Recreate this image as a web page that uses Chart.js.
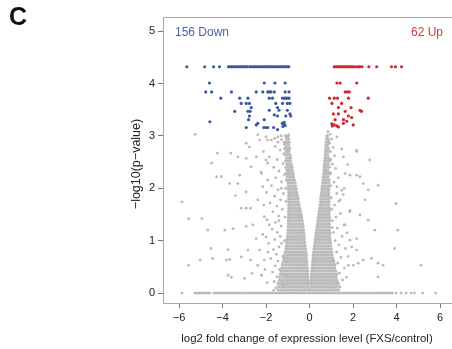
<!DOCTYPE html>
<html>
<head>
<meta charset="utf-8">
<script src="https://cdn.jsdelivr.net/npm/chart.js@4/dist/chart.umd.min.js"></script>
<style>
html,body{margin:0;padding:0;background:#fff;overflow:hidden;width:452px;height:349px;}
canvas{display:block;}
</style>
</head>
<body>
<canvas id="c" width="480" height="349" style="width:480px;height:349px"></canvas>
<script>
// ---- texts ----
const panelLabel = "C";
const downLabel = "156 Down";
const upLabel = "62 Up";
const xTitle = "log2 fold change of expression level (FXS/control)";
const yTitle = "\u2212log10(p\u2212value)";

// ---- ticks ----
const xTicks = [-6, -4, -2, 0, 2, 4, 6];
const yTicks = [0, 1, 2, 3, 4, 5];

// ---- significant down (blue) ----
const downTopY = 4.32;
const downTopX = [-5.64,-4.82,-4.41,-4.14,-3.73,-3.66,-3.60,-3.53,-3.46,-3.40,-3.33,-3.26,-3.19,-3.12,-3.05,-2.98,-2.92,-2.86,-2.75,-2.69,-2.62,-2.55,-2.49,-2.42,-2.35,-2.28,-2.21,-2.15,-2.08,-2.01,-1.94,-1.88,-1.81,-1.74,-1.67,-1.60,-1.54,-1.47,-1.40,-1.33,-1.26,-1.20,-1.13,-1.06,-0.99,-0.95];
const downPoints = [[-4.60,4.01],[-2.08,4.01],[-1.59,4.01],[-1.12,4.01],
[-4.77,3.84],[-4.50,3.84],[-3.59,3.84],[-2.45,3.84],[-2.15,3.84],[-1.92,3.84],[-1.85,3.84],[-1.77,3.84],[-1.62,3.84],[-1.12,3.84],[-0.94,3.84],
[-4.08,3.72],[-3.21,3.72],[-2.83,3.72],[-1.85,3.72],[-1.70,3.72],[-1.24,3.72],[-1.16,3.72],[-1.09,3.72],[-1.02,3.72],[-0.94,3.72],
[-3.14,3.62],[-2.91,3.62],[-2.76,3.62],[-1.55,3.62],[-1.24,3.62],[-1.02,3.62],[-0.90,3.62],
[-2.68,3.54],[-1.47,3.54],
[-3.44,3.47],[-2.83,3.47],[-2.73,3.47],[-1.85,3.49],[-1.40,3.49],[-1.02,3.49],
[-2.76,3.38],[-0.90,3.42],[-1.09,3.38],[-0.86,3.38],[-1.62,3.40],[-1.47,3.38],
[-2.80,3.31],[-2.08,3.31],
[-4.58,3.27],[-2.91,3.16],[-2.45,3.21],[-2.38,3.24],[-2.10,3.16],[-2.00,3.16],[-1.92,3.16],
[-1.25,3.24],[-1.20,3.22],[-1.15,3.21],[-1.22,3.18],[-1.17,3.26],[-1.12,3.20],
[-1.65,3.16],[-1.47,3.12]];

// ---- significant up (red) ----
const upTopY = 4.32;
const upTopX = [1.14,1.20,1.26,1.32,1.38,1.44,1.50,1.56,1.62,1.68,1.74,1.80,1.86,1.93,2.00,2.07,2.18,2.25,2.32,2.41,2.73,3.09,3.77,3.95,4.23];
const upPoints = [[1.26,4.01],[1.41,4.01],[2.17,4.01],
[1.64,3.84],[1.74,3.84],[1.83,3.84],
[0.92,3.72],[1.14,3.72],[1.29,3.72],[1.79,3.72],[2.70,3.72],
[1.03,3.62],[1.48,3.62],
[1.33,3.54],[1.91,3.54],
[1.64,3.47],[2.39,3.47],[2.32,3.49],
[1.10,3.42],[1.33,3.42],[1.79,3.38],[1.94,3.35],
[1.18,3.31],[1.56,3.31],
[1.03,3.23],[1.14,3.21],[1.26,3.19],[1.33,3.17],[1.56,3.24],[1.71,3.28],[2.01,3.21],[1.05,3.19]];

// ---- non-significant (gray): dense V rows [y, [x...]] ----
const grayRows = [
[0.06,[-1.45,-1.33,-1.21,-1.09,-0.97,-0.85,-0.73,-0.61,-0.49,-0.37,-0.25,-0.13,-0.03,0.03,0.13,0.25,0.37,0.49,0.61,0.73,0.85,0.97,1.09,1.21,1.33]],
[0.12,[-1.41,-1.27,-1.15,-1.03,-0.91,-0.79,-0.67,-0.55,-0.43,-0.31,-0.19,-0.08,0.07,0.19,0.31,0.43,0.55,0.67,0.79,0.91,1.03,1.15,1.27]],
[0.18,[-1.44,-1.33,-1.21,-1.09,-0.97,-0.85,-0.73,-0.61,-0.49,-0.37,-0.25,-0.13,-0.05,0.05,0.13,0.25,0.37,0.49,0.61,0.73,0.85,0.97,1.09,1.21,1.31]],
[0.24,[-1.38,-1.27,-1.15,-1.03,-0.91,-0.79,-0.67,-0.55,-0.43,-0.31,-0.19,-0.07,0.07,0.19,0.31,0.43,0.55,0.67,0.79,0.91,1.03,1.15,1.26]],
[0.30,[-1.36,-1.21,-1.09,-0.97,-0.85,-0.73,-0.61,-0.49,-0.37,-0.25,-0.13,-0.08,0.08,0.13,0.25,0.37,0.49,0.61,0.73,0.85,0.97,1.09,1.22]],
[0.36,[-1.33,-1.27,-1.15,-1.03,-0.91,-0.79,-0.67,-0.55,-0.43,-0.31,-0.19,-0.09,0.10,0.19,0.31,0.43,0.55,0.67,0.79,0.91,1.03,1.15,1.24]],
[0.42,[-1.30,-1.21,-1.09,-0.97,-0.85,-0.73,-0.61,-0.49,-0.37,-0.25,-0.13,-0.10,0.11,0.13,0.25,0.37,0.49,0.61,0.73,0.85,0.97,1.09,1.20]],
[0.48,[-1.27,-1.15,-1.03,-0.91,-0.79,-0.67,-0.55,-0.43,-0.31,-0.19,-0.11,0.13,0.19,0.31,0.43,0.55,0.67,0.79,0.91,1.03,1.15]],
[0.54,[-1.24,-1.09,-0.97,-0.85,-0.73,-0.61,-0.49,-0.37,-0.25,-0.13,0.14,0.25,0.37,0.49,0.61,0.73,0.85,0.97,1.09,1.16]],
[0.60,[-1.20,-1.15,-1.03,-0.91,-0.79,-0.67,-0.55,-0.43,-0.31,-0.19,-0.13,0.15,0.19,0.31,0.43,0.55,0.67,0.79,0.91,1.03,1.11]],
[0.66,[-1.17,-1.09,-0.97,-0.85,-0.73,-0.61,-0.49,-0.37,-0.25,-0.15,0.17,0.25,0.37,0.49,0.61,0.73,0.85,0.97,1.07]],
[0.72,[-1.13,-1.03,-0.91,-0.79,-0.67,-0.55,-0.43,-0.31,-0.19,-0.15,0.18,0.19,0.31,0.43,0.55,0.67,0.79,0.91,1.03]],
[0.78,[-1.11,-0.97,-0.85,-0.73,-0.61,-0.49,-0.37,-0.25,-0.17,0.19,0.25,0.37,0.49,0.61,0.73,0.85,0.97,1.01]],
[0.84,[-1.08,-1.03,-0.91,-0.79,-0.67,-0.55,-0.43,-0.31,-0.19,0.21,0.31,0.43,0.55,0.67,0.79,0.91,0.99]],
[0.90,[-1.06,-0.97,-0.85,-0.73,-0.61,-0.49,-0.37,-0.25,-0.20,0.23,0.25,0.37,0.49,0.61,0.73,0.85,0.97]],
[0.96,[-1.04,-0.91,-0.79,-0.67,-0.55,-0.43,-0.31,-0.22,0.25,0.31,0.43,0.55,0.67,0.79,0.91,0.96]],
[1.02,[-1.02,-0.97,-0.85,-0.73,-0.61,-0.49,-0.37,-0.25,0.27,0.37,0.49,0.61,0.73,0.85,0.95]],
[1.08,[-1.00,-0.91,-0.79,-0.67,-0.55,-0.43,-0.31,-0.25,0.29,0.31,0.43,0.55,0.67,0.79,0.91]],
[1.14,[-0.99,-0.85,-0.73,-0.61,-0.49,-0.37,-0.27,0.31,0.37,0.49,0.61,0.73,0.85,0.93]],
[1.20,[-0.98,-0.91,-0.79,-0.67,-0.55,-0.43,-0.31,-0.28,0.33,0.43,0.55,0.67,0.79,0.91]],
[1.26,[-0.98,-0.85,-0.73,-0.61,-0.49,-0.37,-0.30,0.35,0.37,0.49,0.61,0.73,0.85,0.92]],
[1.32,[-0.97,-0.91,-0.79,-0.67,-0.55,-0.43,-0.32,0.37,0.43,0.55,0.67,0.79,0.91]],
[1.38,[-0.97,-0.85,-0.73,-0.61,-0.49,-0.37,-0.34,0.39,0.49,0.61,0.73,0.85,0.91]],
[1.44,[-0.96,-0.91,-0.79,-0.67,-0.55,-0.43,-0.36,0.41,0.43,0.55,0.67,0.79,0.91]],
[1.50,[-0.96,-0.85,-0.73,-0.61,-0.49,-0.39,0.43,0.49,0.61,0.73,0.85,0.90]],
[1.56,[-0.96,-0.91,-0.79,-0.67,-0.55,-0.42,0.45,0.55,0.67,0.79,0.90]],
[1.62,[-0.95,-0.85,-0.73,-0.61,-0.49,-0.45,0.47,0.49,0.61,0.73,0.85,0.90]],
[1.68,[-0.95,-0.91,-0.79,-0.67,-0.55,-0.48,0.49,0.55,0.67,0.79,0.89]],
[1.74,[-0.95,-0.85,-0.73,-0.61,-0.51,0.51,0.61,0.73,0.85,0.89]],
[1.80,[-0.95,-0.91,-0.79,-0.67,-0.55,-0.53,0.52,0.55,0.67,0.79,0.89]],
[1.86,[-0.95,-0.85,-0.73,-0.61,-0.56,0.54,0.61,0.73,0.85,0.88]],
[1.92,[-0.95,-0.91,-0.79,-0.67,-0.59,0.56,0.67,0.79,0.88]],
[1.98,[-0.96,-0.85,-0.73,-0.62,0.58,0.61,0.73,0.85,0.88]],
[2.04,[-0.97,-0.91,-0.79,-0.67,-0.64,0.59,0.67,0.79,0.88]],
[2.10,[-0.98,-0.85,-0.73,-0.67,0.61,0.73,0.85,0.88]],
[2.16,[-1.05,-0.97,-0.88,-0.79,-0.70,0.63,0.72,0.81,0.90]],
[2.22,[-1.02,-0.93,-0.84,-0.74,0.64,0.74,0.85]],
[2.28,[-1.06,-0.97,-0.88,-0.76,0.66,0.76,0.88,0.95]],
[2.34,[-1.00,-0.91,-0.79,0.67,0.72,0.83]],
[2.40,[-1.08,-0.96,-0.86,-0.81,0.68,0.78,0.90]],
[2.46,[-1.03,-0.92,-0.84,0.69,0.75,0.86]],
[2.52,[-1.10,-0.99,-0.88,0.70,0.80,0.92]],
[2.58,[-1.05,-0.94,-0.87,0.71,0.77,0.88]],
[2.64,[-1.12,-1.00,-0.90,0.73,0.83]],
[2.70,[-1.06,-0.95,0.74,0.80,0.93]],
[2.76,[-1.14,-1.01,-0.92,0.75,0.86]],
[2.82,[-1.08,-0.96,0.76,0.82]],
[2.88,[-1.15,-1.02,-0.94,0.77,0.88]],
[2.94,[-1.05,-0.97,0.79,0.84]],
[3.00,[-1.10,-0.98,0.81]]
];

// ---- gray scattered points [x, y] ----
const grayScatter = [
[-1.55,0.10],[-1.62,0.22],[-1.50,0.31],[-1.70,0.40],[-1.58,0.52],[-1.45,0.61],[-1.78,0.66],[-1.52,0.74],[-1.66,0.83],[-1.40,0.88],[-1.88,0.95],[-1.60,1.02],[-1.35,1.08],[-1.48,1.16],[-1.72,1.22],[-1.30,1.28],[-1.56,1.35],[-1.95,1.40],[-1.42,1.47],[-1.68,1.55],[-1.25,1.60],[-1.50,1.66],[-1.82,1.72],[-1.33,1.78],[-1.60,1.85],[-1.20,1.90],[-1.45,1.97],[-1.75,2.05],[-1.28,2.12],[-1.55,2.20],[-1.15,2.26],[-1.40,2.33],[-1.65,2.40],[-1.22,2.47],[-1.48,2.55],[-1.85,2.60],[-1.18,2.66],[-1.35,2.73],[-1.58,2.80],[-1.12,2.86],[-1.28,2.93],[-1.45,2.98],[-1.10,0.35],[-1.22,0.70],[-1.15,1.00],[-1.12,1.45],[-1.08,1.75],[-1.10,2.00],[-1.05,2.35],[-1.20,0.15],[-1.95,0.20],[-2.05,0.45],[-1.90,0.78],[-2.15,1.12],[-1.85,1.30],[-2.10,1.68],[-1.98,1.92],[-2.20,2.28],[-1.92,2.48],[-2.12,2.70],[-1.75,2.92],[-1.38,0.45],[-1.28,0.95],[-1.40,1.38],[-1.30,2.00],[-1.65,0.05],
[1.40,0.12],[1.52,0.25],[1.38,0.38],[1.60,0.48],[1.30,0.57],[1.45,0.68],[1.25,0.78],[1.65,0.85],[1.35,0.92],[1.18,1.00],[1.50,1.08],[1.10,1.16],[1.28,1.24],[1.58,1.30],[1.05,1.38],[1.22,1.45],[1.42,1.52],[1.02,1.60],[1.15,1.68],[1.35,1.75],[1.00,1.82],[1.25,1.90],[1.48,1.96],[0.98,2.05],[1.12,2.12],[1.32,2.20],[0.96,2.30],[1.20,2.38],[1.05,2.46],[0.98,2.55],[1.15,2.62],[0.95,2.70],[1.08,2.78],[0.92,2.86],[1.02,2.94],[1.70,0.30],[1.78,0.70],[1.72,1.15],[1.85,1.55],[1.60,2.00],[1.75,2.45],[1.48,2.75],[1.12,0.62],[1.05,1.25],[1.30,0.20],[1.55,1.88],
[-5.86,1.74],[-5.56,1.42],[-4.95,1.42],[-5.56,0.53],[-5.03,0.63],[-4.68,1.20],[-4.53,0.85],[-4.45,0.66],[-4.50,2.48],[-4.23,2.67],[-4.27,2.22],[-4.05,2.22],[-3.89,1.20],[-3.74,0.83],[-3.82,0.63],[-3.67,0.64],[-3.74,0.34],[-3.59,0.30],[-3.62,2.67],[-3.67,2.09],[-3.51,1.23],[-3.41,1.86],[-3.29,2.60],[-3.21,2.25],[-3.14,1.62],[-2.91,1.62],[-2.71,1.62],[-3.29,2.09],[-2.91,1.27],[-2.83,0.82],[-2.71,0.63],[-2.98,0.28],[-2.65,0.38],[-3.14,0.69],[-2.91,2.57],[-2.68,2.41],[-2.91,1.93],[-2.45,2.60],[-2.23,2.31],[-2.38,1.78],[-2.45,1.04],[-2.30,0.82],[-2.38,0.53],[-2.20,0.34],[-2.61,1.30],[-2.08,1.46],[-2.00,2.54],[-2.15,2.03],[-1.92,2.16],[-2.00,1.07],[-2.08,0.63],[-5.26,3.03],[-2.91,2.86],[-2.76,2.79],[-2.38,3.02],[-2.30,2.92],[-2.00,2.98],[-1.92,2.92],[-1.60,2.95],[-1.45,2.88],[-1.30,3.00],[-1.15,2.84],[-0.95,3.02],[-1.05,2.97],
[1.56,2.60],[2.17,2.70],[1.64,2.28],[1.86,2.25],[2.17,2.25],[2.32,2.22],[2.77,2.54],[2.47,2.09],[2.70,1.97],[3.15,2.06],[2.55,1.78],[1.86,1.58],[2.32,1.49],[2.70,1.39],[3.00,1.20],[3.98,1.71],[4.06,1.20],[3.91,0.85],[2.17,1.04],[1.86,1.01],[1.94,0.88],[2.17,0.82],[2.47,0.63],[2.85,0.66],[3.15,0.57],[3.38,0.53],[3.15,0.31],[1.79,0.53],[2.01,0.53],[2.24,0.57],[5.12,0.53],[1.64,1.30],[1.41,1.78],[1.26,2.03],[1.26,2.98],[2.17,2.73],[0.82,3.00],[0.88,2.92],[0.95,3.03],[0.85,3.08]
];

// ---- gray points at -log10(p) = 0 ----
const grayZeroX = [-5.86,-5.27,-5.20,-5.12,-5.05,-4.97,-4.90,-4.82,-4.74,-4.66,-4.59,
-4.41,-4.32,-4.22,-4.13,-4.03,-3.94,-3.84,-3.75,-3.65,-3.56,-3.46,-3.37,-3.27,-3.18,-3.08,-2.99,-2.89,-2.80,-2.70,-2.61,-2.51,-2.42,-2.32,-2.23,-2.13,-2.04,-1.94,-1.85,-1.75,-1.66,-1.56,-1.47,-1.37,-1.28,-1.18,-1.09,-0.99,-0.90,-0.80,-0.71,-0.61,-0.52,-0.42,-0.33,-0.23,-0.14,-0.04,0.05,0.15,0.24,0.34,0.43,0.53,0.62,0.72,0.81,0.91,1.00,1.10,1.19,1.29,1.38,1.48,1.57,1.67,1.76,1.86,1.95,2.05,2.14,2.24,2.33,2.43,2.52,2.62,2.71,2.81,2.90,3.00,3.09,3.19,3.28,3.38,3.47,3.57,3.66,3.76,3.82,
3.98,4.21,4.44,4.67,4.82,5.20,5.80];

// ---- build datasets ----
const blueData = downTopX.map(x => ({x, y: downTopY})).concat(downPoints.map(p => ({x: p[0], y: p[1]})));
const redData = upTopX.map(x => ({x, y: upTopY})).concat(upPoints.map(p => ({x: p[0], y: p[1]})));
const grayBand = [];
grayRows.forEach(r => r[1].forEach(x => grayBand.push({x, y: r[0]})));
const grayOther = grayScatter.map(p => ({x: p[0], y: p[1]})).concat(grayZeroX.map(x => ({x, y: 0})));

const FONT = '"Liberation Sans", Arial, Helvetica, sans-serif';
const fmt = v => (v < 0 ? '\u2212' + Math.abs(v) : String(v));

// layout targets (pixel positions of the outer x ticks in the figure)
const PX_LEFT_TICK = 179, PX_RIGHT_TICK = 440;

const decor = {
  id: 'decor',
  afterDraw(chart) {
    const ctx = chart.ctx, a = chart.chartArea;
    ctx.save();
    ctx.strokeStyle = '#a8a8a8';
    ctx.lineWidth = 1;
    ctx.beginPath();
    ctx.moveTo(Math.round(a.left) + 0.5, Math.round(a.bottom) + 0.5);
    ctx.lineTo(Math.round(a.left) + 0.5, Math.round(a.top) + 0.5);
    ctx.lineTo(a.right + 20, Math.round(a.top) + 0.5);
    ctx.moveTo(Math.round(a.left) + 0.5, Math.round(a.bottom) + 0.5);
    ctx.lineTo(a.right + 20, Math.round(a.bottom) + 0.5);
    ctx.stroke();
    ctx.fillStyle = '#111';
    ctx.font = 'bold 25px ' + FONT;
    ctx.textAlign = 'left';
    ctx.textBaseline = 'alphabetic';
    ctx.fillText(panelLabel, 9, 25);
    ctx.font = '12px ' + FONT;
    ctx.fillStyle = '#4a64a8';
    ctx.fillText(downLabel, 175, 35.5);
    ctx.fillStyle = '#d23a3a';
    ctx.textAlign = 'right';
    ctx.fillText(upLabel, 443, 35.5);
    ctx.fillStyle = '#222';
    ctx.font = '11.4px ' + FONT;
    ctx.textAlign = 'center';
    ctx.textBaseline = 'middle';
    ctx.fillText(xTitle, 307, 339);
    ctx.font = '12.5px ' + FONT;
    ctx.translate(137, 164);
    ctx.rotate(-Math.PI / 2);
    ctx.fillText(yTitle, 0, 0);
    ctx.restore();
  }
};

const chart = new Chart(document.getElementById('c'), {
  type: 'scatter',
  data: {
    datasets: [
      {label: 'down', data: blueData, backgroundColor: '#3a58a3', pointRadius: 1.6, borderWidth: 0, order: 1},
      {label: 'up', data: redData, backgroundColor: '#d2262c', pointRadius: 1.6, borderWidth: 0, order: 2},
      {label: 'ns', data: grayOther, backgroundColor: '#b9b9b9', pointRadius: 1.4, borderWidth: 0, order: 3},
      {label: 'nsBand', data: grayBand, backgroundColor: '#bcbcbc', pointRadius: 1.75, borderWidth: 0, order: 4}
    ]
  },
  options: {
    responsive: false,
    animation: false,
    devicePixelRatio: 1,
    layout: {padding: {left: 0, top: 17, right: 0, bottom: 0}},
    plugins: {legend: {display: false}, tooltip: {enabled: false}},
    scales: {
      x: {
        type: 'linear', position: 'bottom', min: -6.71, max: 7.8,
        afterBuildTicks: s => { s.ticks = xTicks.map(v => ({value: v})); },
        afterFit: s => { s.height = 46; },
        ticks: {callback: v => fmt(v), font: {family: FONT, size: 11}, color: '#222', padding: 3, maxRotation: 0, autoSkip: false},
        grid: {display: true, drawOnChartArea: false, drawTicks: true, tickLength: 5, color: '#777'},
        border: {display: false}
      },
      y: {
        type: 'linear', min: -0.19, max: 5.27,
        afterBuildTicks: s => { s.ticks = yTicks.map(v => ({value: v})); },
        afterFit: s => { s.width = 163; },
        ticks: {callback: v => fmt(v), font: {family: FONT, size: 11}, color: '#222', padding: 3, autoSkip: false},
        grid: {display: true, drawOnChartArea: false, drawTicks: true, tickLength: 5, color: '#777'},
        border: {display: false}
      }
    }
  },
  plugins: [decor]
});

// align the x scale so that the outer ticks land where they sit in the figure
(function alignX() {
  const a = chart.chartArea;
  const k = (PX_RIGHT_TICK - PX_LEFT_TICK) / (xTicks[xTicks.length - 1] - xTicks[0]);
  chart.options.scales.x.min = xTicks[0] - (PX_LEFT_TICK - a.left) / k;
  chart.options.scales.x.max = xTicks[xTicks.length - 1] + (a.right - PX_RIGHT_TICK) / k;
  chart.update('none');
})();
</script>
</body>
</html>
